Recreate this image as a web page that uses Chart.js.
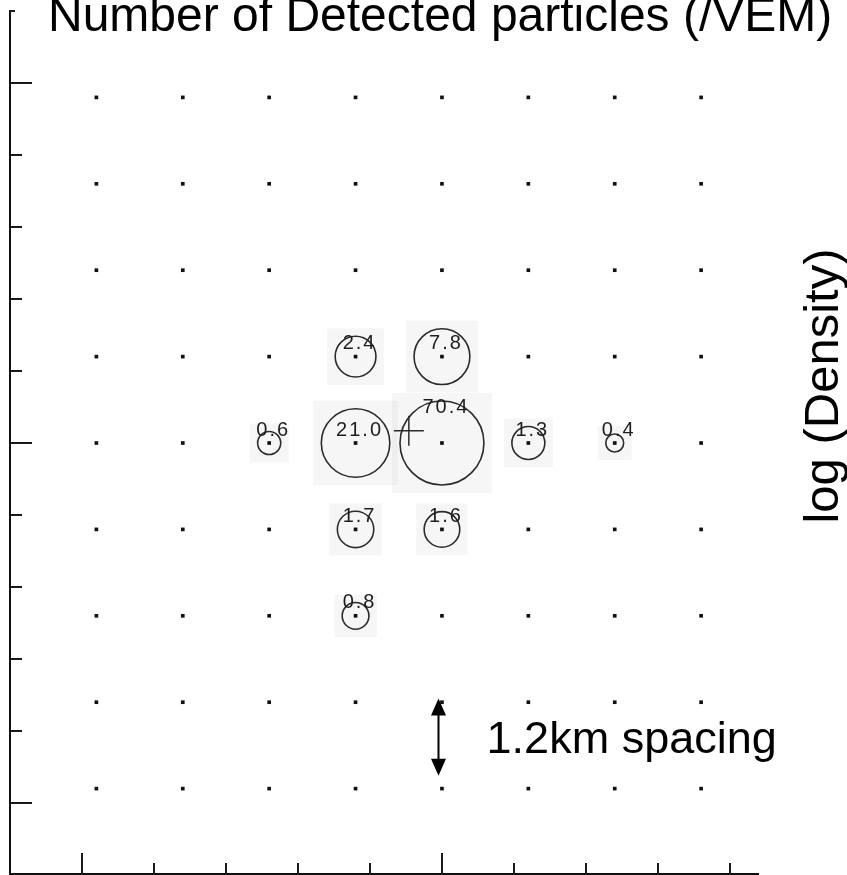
<!DOCTYPE html>
<html>
<head>
<meta charset="utf-8">
<title>Number of Detected particles (/VEM)</title>
<script src="https://cdn.jsdelivr.net/npm/chart.js@4.4.0/dist/chart.umd.min.js"></script>
<style>
  html, body { margin: 0; padding: 0; background: #fff; }
  canvas { display: block; }
</style>
</head>
<body>
<canvas id="array" width="847" height="875"></canvas>
<script>
// Surface detector grid (km): one station every 1.2 km in both directions
const stationColumns = [0.2, 1.4, 2.6, 3.8, 5.0, 6.2, 7.4, 8.6];
const stationRows = [0.2, 1.4, 2.6, 3.8, 5.0, 6.2, 7.4, 8.6, 9.8];

// Stations that recorded particles and their signal (VEM)
const hitX = [3.8, 5.0, 2.6, 3.8, 5.0, 6.2, 7.4, 3.8, 5.0, 3.8];
const hitY = [6.2, 6.2, 5.0, 5.0, 5.0, 5.0, 5.0, 3.8, 3.8, 2.6];
const hitVEM = [2.4, 7.8, 0.6, 21.0, 70.4, 1.3, 0.4, 1.7, 1.6, 0.8];

// Reconstructed shower core (km)
const coreX = [4.54];
const coreY = [5.17];

// Axis tick values (km); every fifth tick is a long one
const xTicks = [0, 1, 2, 3, 4, 5, 6, 7, 8, 9];
const yTicks = [0, 1, 2, 3, 4, 5, 6, 7, 8, 9, 10, 11];
const majorEvery = 5;

// Scale bar spanning two neighbouring rows
const barX = [4.95];
const barY = [1.45, 0.38];
const barText = '1.2km spacing';

const titleText = 'Number of Detected particles (/VEM)';
const sideText = 'log (Density)';

const FONT = '"Liberation Sans", Arial, Helvetica, sans-serif';

const stations = [];
stationRows.forEach(y => stationColumns.forEach(x => stations.push({ x, y })));
const hits = hitVEM.map((v, i) => ({ x: hitX[i], y: hitY[i], v }));
const core = coreX.map((x, i) => ({ x, y: coreY[i] }));

// circle radius grows with log10 of the signal
const radiusFor = v => 14.8 + 14.7 * Math.log10(v);

const fixedTicks = values => scale => {
  scale.ticks = values.map(value => ({ value }));
};

const decorations = {
  id: 'decorations',
  afterDatasetsDraw(chart) {
    const { ctx, scales: { x, y } } = chart;
    ctx.save();

    // tick marks pointing into the plot
    ctx.strokeStyle = '#1a1a1a';
    ctx.lineWidth = 2;
    ctx.beginPath();
    y.ticks.forEach(t => {
      const py = Math.round(y.getPixelForValue(t.value));
      let len = t.value % majorEvery === 0 ? 22 : 12;
      if (t.value === y.max) len = 5;
      ctx.moveTo(x.left, py);
      ctx.lineTo(x.left + len, py);
    });
    x.ticks.forEach(t => {
      const px = Math.round(x.getPixelForValue(t.value));
      const len = t.value % majorEvery === 0 ? 21 : 11;
      ctx.moveTo(px, y.bottom);
      ctx.lineTo(px, y.bottom - len);
    });
    ctx.stroke();

    // signal labels on the hit stations
    const peak = Math.max(...hitVEM);
    ctx.font = `20px ${FONT}`;
    ctx.fillStyle = '#1e1e1e';
    ctx.textAlign = 'center';
    ctx.textBaseline = 'middle';
    ctx.letterSpacing = '2px';
    hits.forEach(h => {
      const cx = x.getPixelForValue(h.x);
      const cy = y.getPixelForValue(h.y);
      const ly = h.v === peak ? cy - radiusFor(h.v) + 6 : cy - 13;
      ctx.fillText(h.v.toFixed(1), cx + 4, ly);
    });
    ctx.letterSpacing = '0px';

    // scale bar: double-headed arrow between two rows
    const ax = Math.round(x.getPixelForValue(barX[0])) + 0.5;
    const top = y.getPixelForValue(barY[0]);
    const bot = y.getPixelForValue(barY[1]);
    ctx.strokeStyle = '#000';
    ctx.fillStyle = '#000';
    ctx.lineWidth = 2;
    ctx.beginPath();
    ctx.moveTo(ax, top + 12);
    ctx.lineTo(ax, bot - 12);
    ctx.stroke();
    ctx.beginPath();
    ctx.moveTo(ax, top);
    ctx.lineTo(ax - 7.5, top + 17);
    ctx.lineTo(ax + 7.5, top + 17);
    ctx.closePath();
    ctx.moveTo(ax, bot);
    ctx.lineTo(ax - 7.5, bot - 17);
    ctx.lineTo(ax + 7.5, bot - 17);
    ctx.closePath();
    ctx.fill();

    ctx.font = `45px ${FONT}`;
    ctx.textAlign = 'left';
    ctx.textBaseline = 'alphabetic';
    ctx.fillText(barText, x.getPixelForValue(5.62), y.getPixelForValue(0.69));

    // headline and colour-scale caption
    ctx.font = `48px ${FONT}`;
    ctx.fillText(titleText, 48, 31);

    ctx.translate(838, 386);
    ctx.rotate(-Math.PI / 2);
    ctx.font = `49px ${FONT}`;
    ctx.textAlign = 'center';
    ctx.fillText(sideText, 0, 0);

    ctx.restore();
  }
};

new Chart(document.getElementById('array'), {
  type: 'scatter',
  data: {
    datasets: [
      {
        label: 'core',
        data: core,
        pointStyle: 'cross',
        pointRadius: 15,
        borderColor: '#2b2b2b',
        pointBorderWidth: 1.5,
        order: 0
      },
      {
        label: 'signal',
        data: hits,
        pointStyle: 'circle',
        pointRadius: ctx => radiusFor(ctx.raw.v),
        backgroundColor: 'rgba(0,0,0,0)',
        borderColor: '#2b2b2b',
        pointBorderWidth: 1.6,
        order: 1
      },
      {
        label: 'stations',
        data: stations,
        pointStyle: 'rect',
        pointRadius: 2.6,
        backgroundColor: '#111',
        borderColor: '#111',
        pointBorderWidth: 0,
        order: 2
      },
      {
        label: 'halo',
        data: hits,
        pointStyle: 'rect',
        pointRadius: ctx => (radiusFor(ctx.raw.v) + 8) / Math.SQRT1_2,
        backgroundColor: 'rgba(0,0,0,0.035)',
        borderColor: 'rgba(0,0,0,0)',
        pointBorderWidth: 0,
        order: 3
      }
    ]
  },
  options: {
    responsive: false,
    animation: false,
    devicePixelRatio: 1,
    events: [],
    layout: { autoPadding: false, padding: { left: 10, top: 11, right: 89, bottom: 1 } },
    plugins: { legend: { display: false }, tooltip: { enabled: false }, title: { display: false } },
    scales: {
      x: {
        type: 'linear',
        min: -1,
        max: 9.39,
        afterBuildTicks: fixedTicks(xTicks),
        ticks: { display: false },
        grid: { display: false, drawTicks: false },
        border: { display: true, color: '#111', width: 2 }
      },
      y: {
        type: 'linear',
        min: -0.986,
        max: 11,
        afterBuildTicks: fixedTicks(yTicks),
        ticks: { display: false },
        grid: { display: false, drawTicks: false },
        border: { display: true, color: '#111', width: 2 }
      }
    }
  },
  plugins: [decorations]
});
</script>
</body>
</html>
